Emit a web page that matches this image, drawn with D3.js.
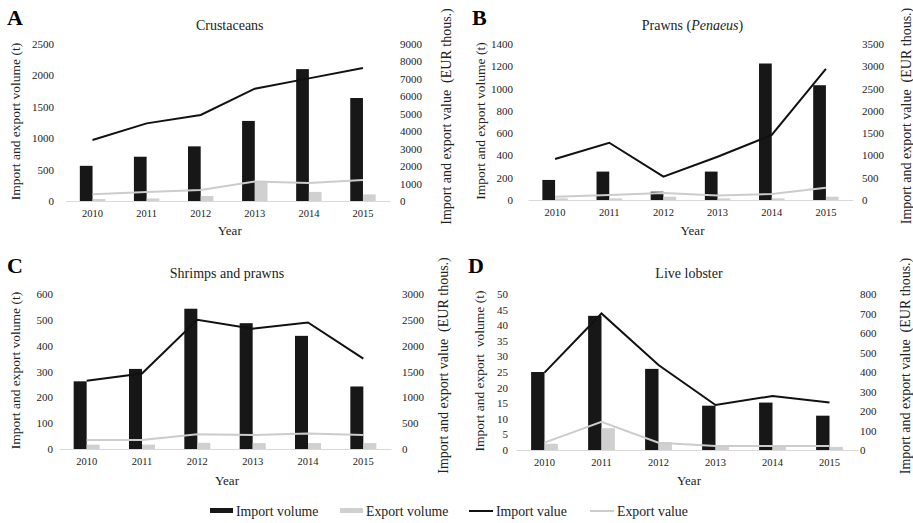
<!DOCTYPE html>
<html>
<head>
<meta charset="utf-8">
<script src="https://cdn.jsdelivr.net/npm/d3@7"></script>
<style>
  body { margin: 0; background: #fff; }
  svg { display: block; font-family: "Liberation Serif", "Times New Roman", serif; }
</style>
</head>
<body>
<div id="chart"></div>
<script>
const years = ["2010", "2011", "2012", "2013", "2014", "2015"];

const crustaceansImportVolume = [560, 705, 870, 1275, 2100, 1640];
const crustaceansExportVolume = [32, 40, 80, 320, 145, 105];
const crustaceansImportValue = [3500, 4450, 4930, 6440, 7030, 7625];
const crustaceansExportValue = [390, 510, 630, 1120, 1030, 1200];

const prawnsImportVolume = [180, 255, 75, 255, 1225, 1030];
const prawnsExportVolume = [15, 15, 30, 15, 15, 30];
const prawnsImportValue = [920, 1285, 523, 970, 1460, 2940];
const prawnsExportValue = [75, 112, 155, 100, 135, 276];

const shrimpsImportVolume = [262, 310, 543, 487, 438, 242];
const shrimpsExportVolume = [17, 17, 24, 23, 23, 23];
const shrimpsImportValue = [1320, 1460, 2500, 2330, 2450, 1750];
const shrimpsExportValue = [175, 175, 285, 272, 302, 272];

const lobsterImportVolume = [25, 43, 26, 14.2, 15.2, 11];
const lobsterExportVolume = [2, 7, 2.5, 1, 1, 1];
const lobsterImportValue = [397, 700, 436, 231, 277, 244];
const lobsterExportValue = [38, 145, 37, 20, 20, 20];

const crustaceansVolumeTicks = [0, 500, 1000, 1500, 2000, 2500];
const crustaceansValueTicks = [0, 1000, 2000, 3000, 4000, 5000, 6000, 7000, 8000, 9000];
const prawnsVolumeTicks = [0, 200, 400, 600, 800, 1000, 1200, 1400];
const prawnsValueTicks = [0, 500, 1000, 1500, 2000, 2500, 3000, 3500];
const shrimpsVolumeTicks = [0, 100, 200, 300, 400, 500, 600];
const shrimpsValueTicks = [0, 500, 1000, 1500, 2000, 2500, 3000];
const lobsterVolumeTicks = [0, 5, 10, 15, 20, 25, 30, 35, 40, 45, 50];
const lobsterValueTicks = [0, 100, 200, 300, 400, 500, 600, 700, 800];

const legendLabels = ["Import volume", "Export volume", "Import value", "Export value"];

const colors = {
  importBar: "#171717",
  exportBar: "#d0d0d0",
  importLine: "#111111",
  exportLine: "#cccccc",
  axis: "#d9d9d9",
  text: "#222222",
};

const serif = "Liberation Serif, Times New Roman, serif";

const panels = [
  {
    letter: "A", title: ["Crustaceans"],
    importVolume: crustaceansImportVolume, exportVolume: crustaceansExportVolume,
    importValue: crustaceansImportValue, exportValue: crustaceansExportValue,
    volumeTicks: crustaceansVolumeTicks, valueTicks: crustaceansValueTicks,
    leftTitle: "Import and export volume (t)",
    box: { left: 65.5, right: 390, top: 44, bottom: 201 },
    letterPos: [7, 25], titleY: 30, yearY: 235,
    leftLabelX: 54, rightLabelX: 400, leftTitleX: 20, rightTitleX: 451,
  },
  {
    letter: "B", title: ["Prawns (", "Penaeus", ")"],
    importVolume: prawnsImportVolume, exportVolume: prawnsExportVolume,
    importValue: prawnsImportValue, exportValue: prawnsExportValue,
    volumeTicks: prawnsVolumeTicks, valueTicks: prawnsValueTicks,
    leftTitle: "Import and export volume (t)",
    box: { left: 528, right: 853, top: 44, bottom: 200 },
    letterPos: [472, 25], titleY: 30, yearY: 235,
    leftLabelX: 513, rightLabelX: 862, leftTitleX: 485, rightTitleX: 911,
  },
  {
    letter: "C", title: ["Shrimps and prawns"],
    importVolume: shrimpsImportVolume, exportVolume: shrimpsExportVolume,
    importValue: shrimpsImportValue, exportValue: shrimpsExportValue,
    volumeTicks: shrimpsVolumeTicks, valueTicks: shrimpsValueTicks,
    leftTitle: "Import and export volume (t)",
    box: { left: 59, right: 391, top: 294, bottom: 449 },
    letterPos: [7, 273], titleY: 278, yearY: 485,
    leftLabelX: 53, rightLabelX: 402, leftTitleX: 20, rightTitleX: 448,
  },
  {
    letter: "D", title: ["Live lobster"],
    importVolume: lobsterImportVolume, exportVolume: lobsterExportVolume,
    importValue: lobsterImportValue, exportValue: lobsterExportValue,
    volumeTicks: lobsterVolumeTicks, valueTicks: lobsterValueTicks,
    leftTitle: "Import and export  volume (t)",
    box: { left: 516, right: 858, top: 294, bottom: 450 },
    letterPos: [468, 273], titleY: 278, yearY: 485,
    leftLabelX: 508, rightLabelX: 860, leftTitleX: 484, rightTitleX: 910,
  },
];

const width = 913;
const height = 523;

const svg = d3.select("#chart")
  .append("svg")
  .attr("width", width)
  .attr("height", height)
  .attr("viewBox", [0, 0, width, height]);

function styleAxisText(axisG, size) {
  axisG.attr("font-family", serif);
  axisG.selectAll("text")
    .attr("font-size", size)
    .attr("fill", colors.text);
}

function drawPanel(p) {
  const g = svg.append("g");
  const b = p.box;

  const x = d3.scaleBand()
    .domain(years)
    .range([b.left, b.right])
    .paddingInner(0.53)
    .paddingOuter(0.265);

  const xSub = d3.scaleBand()
    .domain(["import", "export"])
    .range([0, x.bandwidth()]);

  const yVolume = d3.scaleLinear()
    .domain([0, d3.max(p.volumeTicks)])
    .range([b.bottom, b.top]);

  const yValue = d3.scaleLinear()
    .domain([0, d3.max(p.valueTicks)])
    .range([b.bottom, b.top]);

  // bars
  const rows = years.map((year, i) => ({
    year,
    import: p.importVolume[i],
    export: p.exportVolume[i],
  }));

  g.append("g")
    .selectAll("g")
    .data(rows)
    .join("g")
    .attr("transform", d => `translate(${x(d.year)},0)`)
    .selectAll("rect")
    .data(d => ["import", "export"].map(key => ({ key, value: d[key] })))
    .join("rect")
    .attr("x", d => xSub(d.key))
    .attr("y", d => yVolume(d.value))
    .attr("width", xSub.bandwidth())
    .attr("height", d => yVolume(0) - yVolume(d.value))
    .attr("fill", d => d.key === "import" ? colors.importBar : colors.exportBar);

  // x axis (baseline only)
  const xAxis = g.append("g")
    .attr("transform", `translate(0,${b.bottom})`)
    .call(d3.axisBottom(x).tickSize(0).tickSizeOuter(0).tickPadding(9));
  xAxis.select(".domain").attr("stroke", colors.axis).attr("stroke-width", 1.2);
  styleAxisText(xAxis, 10.5);

  // value lines
  const line = (values) => d3.line()
    .x((d, i) => x(years[i]) + x.bandwidth() / 2)
    .y(d => yValue(d))(values);

  g.append("path")
    .attr("d", line(p.exportValue))
    .attr("fill", "none")
    .attr("stroke", colors.exportLine)
    .attr("stroke-width", 2);

  g.append("path")
    .attr("d", line(p.importValue))
    .attr("fill", "none")
    .attr("stroke", colors.importLine)
    .attr("stroke-width", 2);

  // left axis
  const leftAxis = g.append("g")
    .attr("transform", `translate(${p.leftLabelX},0)`)
    .call(d3.axisLeft(yVolume).tickValues(p.volumeTicks)
      .tickFormat(d3.format("d")).tickSize(0).tickPadding(0));
  leftAxis.select(".domain").remove();
  styleAxisText(leftAxis, 11);

  // right axis
  const rightAxis = g.append("g")
    .attr("transform", `translate(${p.rightLabelX},0)`)
    .call(d3.axisRight(yValue).tickValues(p.valueTicks)
      .tickFormat(d3.format("d")).tickSize(0).tickPadding(0));
  rightAxis.select(".domain").remove();
  styleAxisText(rightAxis, 11);

  const midY = (b.top + b.bottom) / 2;
  const midX = (b.left + b.right) / 2;

  g.append("text")
    .attr("transform", `translate(${p.leftTitleX},${midY - 1}) rotate(-90)`)
    .attr("text-anchor", "middle")
    .attr("font-size", 13.5)
    .attr("fill", colors.text)
    .style("white-space", "pre")
    .text(p.leftTitle);

  g.append("text")
    .attr("transform", `translate(${p.rightTitleX},${midY - 6}) rotate(-90)`)
    .attr("text-anchor", "middle")
    .attr("font-size", 14)
    .attr("fill", colors.text)
    .style("white-space", "pre")
    .text("Import and export value  (EUR thous.)");

  // chart title
  const title = g.append("text")
    .attr("x", midX + 2)
    .attr("y", p.titleY)
    .attr("text-anchor", "middle")
    .attr("font-size", 14)
    .attr("fill", colors.text);
  title.selectAll("tspan")
    .data(p.title)
    .join("tspan")
    .attr("font-style", (d, i) => i === 1 ? "italic" : "normal")
    .text(d => d);

  g.append("text")
    .attr("x", midX + 2)
    .attr("y", p.yearY)
    .attr("text-anchor", "middle")
    .attr("font-size", 13)
    .attr("fill", colors.text)
    .text("Year");

  g.append("text")
    .attr("x", p.letterPos[0])
    .attr("y", p.letterPos[1])
    .attr("font-size", 22)
    .attr("font-weight", "bold")
    .attr("fill", "#000")
    .text(p.letter);
}

panels.forEach(drawPanel);

// legend
const legendX = [210, 340, 469, 590];
const legend = svg.append("g")
  .selectAll("g")
  .data(legendLabels)
  .join("g")
  .attr("transform", (d, i) => `translate(${legendX[i]},511)`);

legend.filter((d, i) => i < 2)
  .append("rect")
  .attr("x", 0)
  .attr("y", -3)
  .attr("width", 23)
  .attr("height", 5)
  .attr("fill", (d, i) => i === 0 ? colors.importBar : colors.exportBar);

legend.filter((d, i) => i >= 2)
  .append("line")
  .attr("x1", 0)
  .attr("x2", 24)
  .attr("stroke-width", 2)
  .attr("stroke", (d, i) => i === 0 ? colors.importLine : colors.exportLine);

legend.append("text")
  .attr("x", (d, i) => i < 2 ? 26 : 27)
  .attr("y", 5)
  .attr("font-size", 13.8)
  .attr("fill", colors.text)
  .text(d => d);
</script>
</body>
</html>
